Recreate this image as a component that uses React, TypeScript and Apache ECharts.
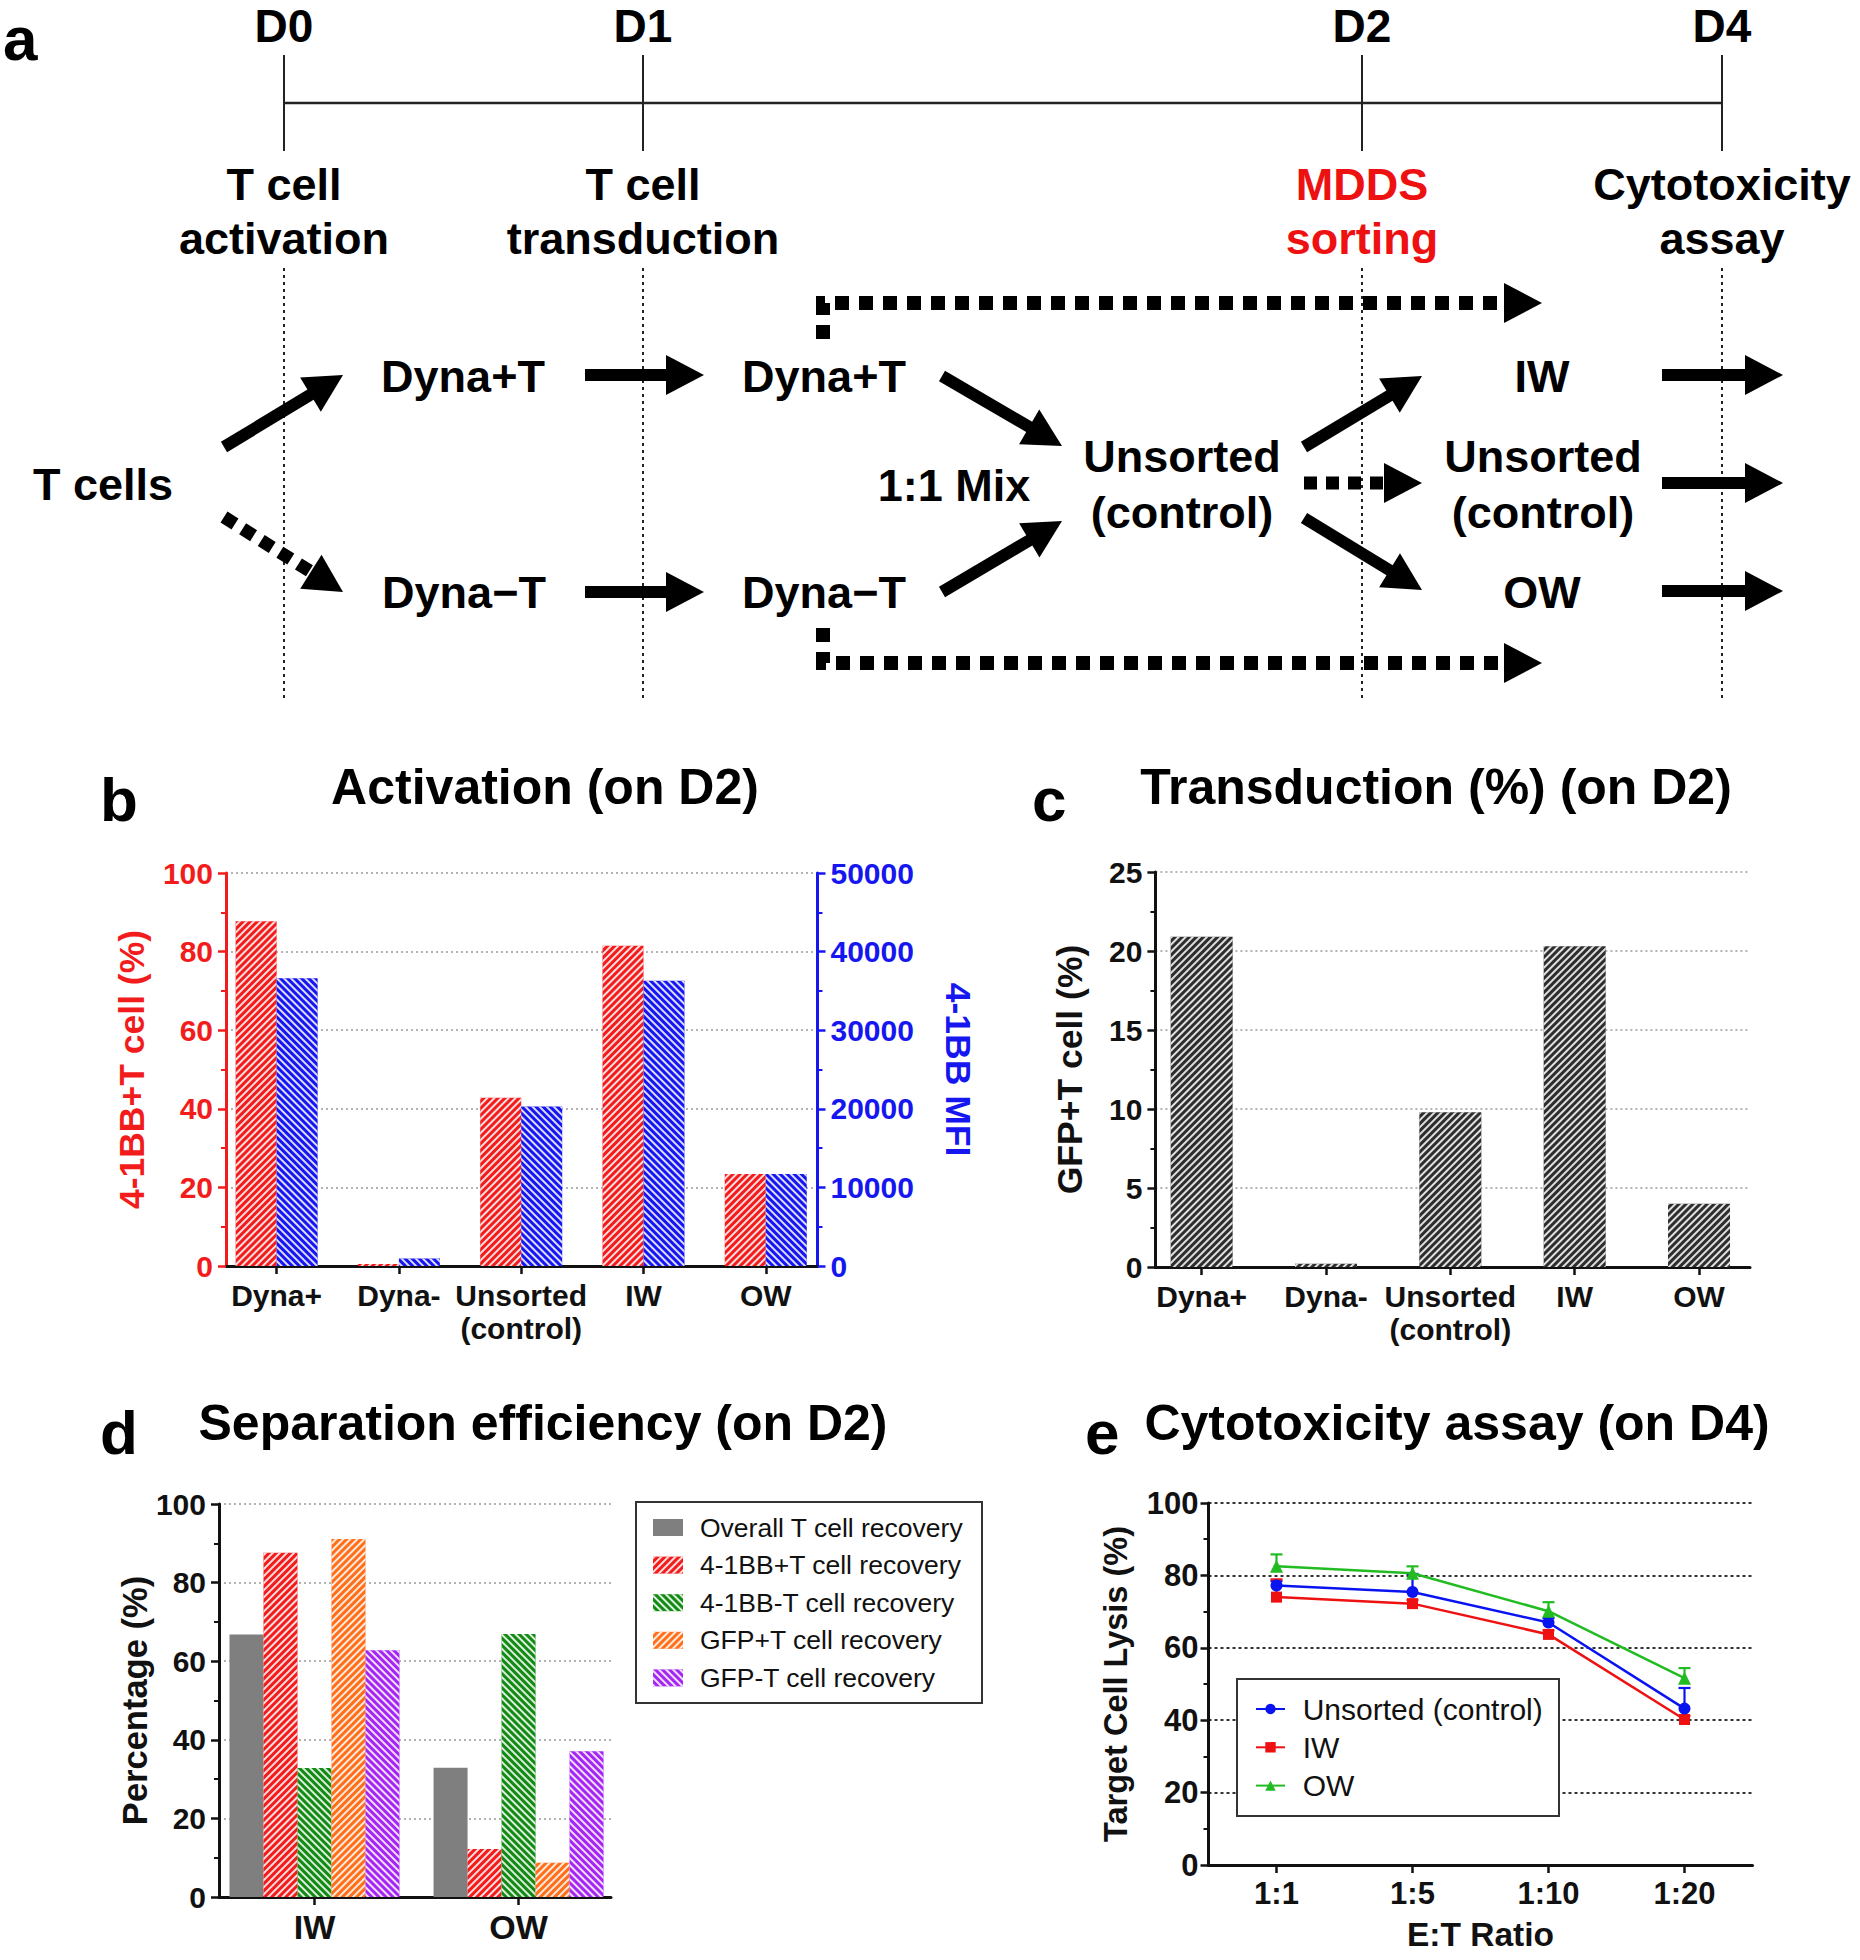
import React, { useEffect, useRef } from 'react';
import * as echarts from 'echarts';

const FONT = "'Liberation Sans', Arial, Helvetica, sans-serif";

// ---------- data ----------
const bCategories = ['Dyna+', 'Dyna-', 'Unsorted\n(control)', 'IW', 'OW'];
const bPercent = [87.7, 0.5, 42.8, 81.5, 23.4];
const bMFI = [36600, 950, 20300, 36300, 11700];

const cCategories = ['Dyna+', 'Dyna-', 'Unsorted\n(control)', 'IW', 'OW'];
const cGFP = [20.9, 0.2, 9.8, 20.3, 4.0];

const dGroups = ['IW', 'OW'];
const dNames = [
  'Overall T cell recovery',
  '4-1BB+T cell recovery',
  '4-1BB-T cell recovery',
  'GFP+T cell recovery',
  'GFP-T cell recovery',
];
const dOverall = [66.8, 32.9];
const d41BBpos = [87.6, 12.2];
const d41BBneg = [32.8, 66.9];
const dGFPpos = [91.1, 8.7];
const dGFPneg = [62.8, 37.1];

const eRatios = ['1:1', '1:5', '1:10', '1:20'];
const eNames = ['Unsorted (control)', 'IW', 'OW'];
const eUnsorted = [77.2, 75.4, 67.0, 43.2];
const eUnsortedErr = [78.4, 80.4, 68.2, 48.9];
const eIW = [74.0, 72.2, 63.7, 40.2];
const eIWErr = [78.9, 73.2, 64.8, 41.2];
const eOW = [82.5, 80.6, 70.1, 51.6];
const eOWErr = [85.8, 82.5, 72.6, 54.4];

// ---------- styles ----------
const RED = '#f21c1c';
const BLUE = '#1616f0';
const DARK = '#2e2e2e';
const GRAY = '#7f7f7f';
const GREEN = '#138a13';
const ORANGE = '#ff6f1a';
const PURPLE = '#a526f2';
const AXIS = '#111111';

// dir -1 -> "/" stripes, dir +1 -> "\" stripes
const hatch = (dir: number) => ({
  symbol: 'rect',
  symbolSize: 1,
  color: 'rgba(255,255,255,0.85)',
  dashArrayX: [1, 0],
  dashArrayY: [2, 3],
  rotation: (dir * Math.PI) / 4,
});

const txt = (text: string, x: number, y: number, size: number, color = '#000', align = 'center', weight = 'bold') => ({
  type: 'text',
  x,
  y,
  z: 20,
  style: {
    text,
    fill: color,
    fontSize: size,
    fontWeight: weight,
    fontFamily: FONT,
    align,
    verticalAlign: 'middle',
    textAlign: align,
    textVerticalAlign: 'middle',
  },
});

const arrow = (x1: number, y1: number, x2: number, y2: number, dashed = false) => {
  const dx = x2 - x1;
  const dy = y2 - y1;
  const len = Math.hypot(dx, dy);
  const ux = dx / len;
  const uy = dy / len;
  const headL = 38;
  const headW = 20;
  const bx = x2 - ux * headL;
  const by = y2 - uy * headL;
  const px = -uy;
  const py = ux;
  return [
    {
      type: 'line',
      z: 10,
      shape: { x1, y1, x2: bx + ux * 2, y2: by + uy * 2 },
      style: {
        stroke: '#000',
        lineWidth: dashed ? 13 : 12,
        lineDash: dashed ? [13, 9] : null,
        lineCap: 'butt',
      },
    },
    {
      type: 'polygon',
      z: 10,
      shape: { points: [[x2, y2], [bx + px * headW, by + py * headW], [bx - px * headW, by - py * headW]] },
      style: { fill: '#000' },
    },
  ];
};

function buildGraphics(): any[] {
  const g: any[] = [];
  // panel letters
  g.push(txt('a', 3, 38, 62, '#000', 'left'));
  g.push(txt('b', 100, 799, 62, '#000', 'left'));
  g.push(txt('c', 1032, 799, 62, '#000', 'left'));
  g.push(txt('d', 100, 1432, 62, '#000', 'left'));
  g.push(txt('e', 1085, 1432, 62, '#000', 'left'));

  // titles
  g.push(txt('Activation (on D2)', 545, 787, 50));
  g.push(txt('Transduction (%) (on D2)', 1436, 787, 50));
  g.push(txt('Separation efficiency (on D2)', 543, 1423, 50));
  g.push(txt('Cytotoxicity assay (on D4)', 1457, 1423, 50));

  // timeline
  const days = [284, 643, 1362, 1722];
  const dayNames = ['D0', 'D1', 'D2', 'D4'];
  g.push({ type: 'line', z: 5, shape: { x1: days[0], y1: 103, x2: days[3], y2: 103 }, style: { stroke: '#222', lineWidth: 2.5 } });
  days.forEach((x, i) => {
    g.push({ type: 'line', z: 5, shape: { x1: x, y1: 55, x2: x, y2: 151 }, style: { stroke: '#222', lineWidth: 2 } });
    g.push({ type: 'line', z: 5, shape: { x1: x, y1: 268, x2: x, y2: 698 }, style: { stroke: '#222', lineWidth: 2, lineDash: [3, 4] } });
    g.push(txt(dayNames[i], x, 26, 46));
  });
  g.push(txt('T cell', 284, 184, 45));
  g.push(txt('activation', 284, 238, 45));
  g.push(txt('T cell', 643, 184, 45));
  g.push(txt('transduction', 643, 238, 45));
  g.push(txt('MDDS', 1362, 184, 45, '#ee1111'));
  g.push(txt('sorting', 1362, 238, 45, '#ee1111'));
  g.push(txt('Cytotoxicity', 1722, 184, 45));
  g.push(txt('assay', 1722, 238, 45));

  // flow labels
  g.push(txt('T cells', 103, 484, 45));
  g.push(txt('Dyna+T', 463, 376, 45));
  g.push(txt('Dyna\u2212T', 464, 592, 45));
  g.push(txt('Dyna+T', 824, 376, 45));
  g.push(txt('Dyna\u2212T', 824, 592, 45));
  g.push(txt('1:1 Mix', 954, 485, 45));
  g.push(txt('Unsorted', 1182, 456, 45));
  g.push(txt('(control)', 1182, 512, 45));
  g.push(txt('IW', 1542, 376, 45));
  g.push(txt('Unsorted', 1543, 456, 45));
  g.push(txt('(control)', 1543, 512, 45));
  g.push(txt('OW', 1542, 592, 45));

  // arrows
  g.push(...arrow(224, 447, 343, 375));
  g.push(...arrow(224, 517, 343, 592, true));
  g.push(...arrow(585, 375, 704, 375));
  g.push(...arrow(585, 592, 704, 592));
  g.push(...arrow(942, 376, 1062, 446));
  g.push(...arrow(942, 592, 1062, 521));
  g.push(...arrow(1304, 447, 1422, 376));
  g.push(...arrow(1304, 483, 1422, 483, true));
  g.push(...arrow(1304, 518, 1422, 590));
  g.push(...arrow(1662, 375, 1783, 375));
  g.push(...arrow(1662, 483, 1783, 483));
  g.push(...arrow(1662, 591, 1783, 591));

  // dotted L-shaped bypass arrows
  g.push({ type: 'polyline', z: 10, shape: { points: [[823, 339], [823, 303], [1505, 303]] }, style: { stroke: '#000', lineWidth: 14, lineDash: [14, 10], lineJoin: 'miter', fill: null } });
  g.push({ type: 'polygon', z: 10, shape: { points: [[1542, 303], [1504, 283], [1504, 323]] }, style: { fill: '#000' } });
  g.push({ type: 'polyline', z: 10, shape: { points: [[823, 628], [823, 663], [1505, 663]] }, style: { stroke: '#000', lineWidth: 14, lineDash: [14, 10], lineJoin: 'miter', fill: null } });
  g.push({ type: 'polygon', z: 10, shape: { points: [[1542, 663], [1504, 643], [1504, 683]] }, style: { fill: '#000' } });

  // legend boxes
  g.push({ type: 'rect', z: 1, shape: { x: 636, y: 1502, width: 346, height: 201 }, style: { fill: '#fff', stroke: '#333', lineWidth: 2 } });
  g.push({ type: 'rect', z: 3, shape: { x: 1237, y: 1679, width: 322, height: 137 }, style: { fill: '#fff', stroke: '#333', lineWidth: 2 } });
  return g;
}

const catLabel = (cats: string[], size: number) => ({
  customValues: cats.map((_, i) => i),
  formatter: (v: number) => cats[Math.round(v)] ?? '',
  fontSize: size,
  fontWeight: 'bold',
  color: AXIS,
  fontFamily: FONT,
  margin: 13,
  lineHeight: 33,
});

const valueX = (gridIndex: number, cats: string[], min: number, max: number, size: number) => ({
  gridIndex,
  type: 'value',
  min,
  max,
  axisLine: { show: true, onZero: false, lineStyle: { color: AXIS, width: 3 } },
  axisTick: { show: true, customValues: cats.map((_, i) => i), length: 8, lineStyle: { color: AXIS, width: 2.5 } },
  axisLabel: catLabel(cats, size),
  splitLine: { show: false },
  minorTick: { show: false },
  minorSplitLine: { show: false },
});

const gridDotted = { show: true, lineStyle: { color: '#9a9a9a', width: 1.5, type: [2, 3] } };

const valueY = (gridIndex: number, max: number, interval: number, color: string, name: string, nameGap: number, nameSize: number, extra: any = {}) => ({
  gridIndex,
  type: 'value',
  min: 0,
  max,
  interval,
  name,
  nameLocation: 'middle',
  nameGap,
  nameRotate: 90,
  nameTextStyle: { fontSize: nameSize, fontWeight: 'bold', color, fontFamily: FONT },
  axisLine: { show: true, onZero: false, lineStyle: { color, width: 3 } },
  axisTick: { show: true, length: 8, lineStyle: { color, width: 2.5 } },
  minorTick: { show: true, splitNumber: 2, length: 5, lineStyle: { color, width: 2 } },
  axisLabel: { fontSize: 30, fontWeight: 'bold', color, fontFamily: FONT, margin: 13, formatter: (v: number) => String(v) },
  splitLine: gridDotted,
  ...extra,
});

function buildOption(): any {
  const errSeries = (name: string, vals: number[], tops: number[], color: string) => ({
    type: 'custom',
    name,
    xAxisIndex: 3,
    yAxisIndex: 4,
    z: 2,
    silent: true,
    encode: { x: 0, y: [1, 2] },
    data: vals.map((v, i) => [i, v, tops[i]]),
    renderItem: (_params: any, api: any) => {
      const p0 = api.coord([api.value(0), api.value(1)]);
      const p1 = api.coord([api.value(0), api.value(2)]);
      return {
        type: 'group',
        children: [
          { type: 'line', shape: { x1: p0[0], y1: p0[1], x2: p1[0], y2: p1[1] }, style: { stroke: color, lineWidth: 2.2 } },
          { type: 'line', shape: { x1: p1[0] - 6, y1: p1[1], x2: p1[0] + 6, y2: p1[1] }, style: { stroke: color, lineWidth: 2.2 } },
        ],
      };
    },
  });

  const dBar = (name: string, vals: number[], color: string, decal: any) => ({
    type: 'bar',
    name,
    xAxisIndex: 2,
    yAxisIndex: 3,
    barWidth: 34,
    barGap: '0%',
    data: vals.map((v, i) => [i, v]),
    itemStyle: decal ? { color, decal } : { color },
  });

  return {
    animation: false,
    backgroundColor: '#ffffff',
    textStyle: { fontFamily: FONT },
    grid: [
      { left: 226, top: 873, width: 591.5, height: 393, outerBoundsMode: 'none' },
      { left: 1155.4, top: 872, width: 594.6, height: 395, outerBoundsMode: 'none' },
      { left: 219, top: 1504, width: 392, height: 393, outerBoundsMode: 'none' },
      { left: 1208.5, top: 1503, width: 544, height: 362, outerBoundsMode: 'none' },
    ],
    xAxis: [
      valueX(0, bCategories, -0.414, 4.423, 30),
      valueX(1, cCategories, -0.372, 4.41, 30),
      valueX(2, dGroups, -0.468, 1.453, 34),
      {
        gridIndex: 3,
        type: 'category',
        data: eRatios,
        boundaryGap: true,
        name: 'E:T Ratio',
        nameLocation: 'middle',
        nameGap: 52,
        nameTextStyle: { fontSize: 33.5, fontWeight: 'bold', color: AXIS, fontFamily: FONT },
        axisLine: { show: true, onZero: false, lineStyle: { color: AXIS, width: 3 } },
        axisTick: { show: true, alignWithLabel: true, length: 8, lineStyle: { color: AXIS, width: 2.5 } },
        axisLabel: { fontSize: 31, fontWeight: 'bold', color: AXIS, fontFamily: FONT, margin: 13 },
        splitLine: { show: false },
      },
    ],
    yAxis: [
      valueY(0, 100, 20, RED, '4-1BB+T cell (%)', 76, 35.5),
      valueY(0, 50000, 10000, BLUE, '4-1BB MFI', 122, 35.5, {
        position: 'right',
        nameRotate: -90,
        splitLine: { show: false },
      }),
      valueY(1, 25, 5, AXIS, 'GFP+T cell (%)', 67, 35.5),
      valueY(2, 100, 20, AXIS, 'Percentage (%)', 67, 34.5),
      valueY(3, 100, 20, AXIS, 'Target Cell Lysis (%)', 76, 32.5, {
        splitLine: { show: true, lineStyle: { color: '#333', width: 2, type: [3, 3] } },
        axisLabel: { fontSize: 31, fontWeight: 'bold', color: AXIS, fontFamily: FONT, margin: 10 },
      }),
    ],
    legend: [
      {
        data: dNames,
        orient: 'vertical',
        left: 653,
        top: 1514,
        padding: 0,
        itemWidth: 30,
        itemHeight: 17,
        itemGap: 10.6,
        icon: 'rect',
        selectedMode: false,
        textStyle: { fontSize: 26.5, lineHeight: 27, color: AXIS, fontFamily: FONT, padding: [0, 0, 0, 12] },
      },
      {
        data: eNames,
        orient: 'vertical',
        left: 1255,
        top: 1694,
        padding: 0,
        itemWidth: 29,
        itemHeight: 13,
        itemGap: 8.3,
        selectedMode: false,
        z: 5,
        textStyle: { fontSize: 30, lineHeight: 30, color: AXIS, fontFamily: FONT, padding: [0, 0, 0, 12.7] },
      },
    ],
    series: [
      {
        type: 'bar',
        name: '4-1BB+T cell (%)',
        xAxisIndex: 0,
        yAxisIndex: 0,
        barWidth: 41,
        barGap: '0%',
        data: bPercent.map((v, i) => [i, v]),
        itemStyle: { color: RED, decal: hatch(-1) },
      },
      {
        type: 'bar',
        name: '4-1BB MFI',
        xAxisIndex: 0,
        yAxisIndex: 1,
        barWidth: 41,
        barGap: '0%',
        data: bMFI.map((v, i) => [i, v]),
        itemStyle: { color: BLUE, decal: hatch(1) },
      },
      {
        type: 'bar',
        name: 'GFP+T cell (%)',
        xAxisIndex: 1,
        yAxisIndex: 2,
        barWidth: 62,
        data: cGFP.map((v, i) => [i, v]),
        itemStyle: { color: DARK, decal: hatch(-1) },
      },
      dBar(dNames[0], dOverall, GRAY, null),
      dBar(dNames[1], d41BBpos, RED, hatch(-1)),
      dBar(dNames[2], d41BBneg, GREEN, hatch(1)),
      dBar(dNames[3], dGFPpos, ORANGE, hatch(-1)),
      dBar(dNames[4], dGFPneg, PURPLE, hatch(1)),
      errSeries('Unsorted error', eUnsorted, eUnsortedErr, '#0a14f0'),
      errSeries('IW error', eIW, eIWErr, '#ee1111'),
      errSeries('OW error', eOW, eOWErr, '#22bb22'),
      {
        type: 'line',
        name: eNames[0],
        xAxisIndex: 3,
        yAxisIndex: 4,
        z: 4,
        data: eUnsorted,
        symbol: 'circle',
        symbolSize: 12,
        color: '#0a14f0',
        lineStyle: { width: 2.5 },
      },
      {
        type: 'line',
        name: eNames[1],
        xAxisIndex: 3,
        yAxisIndex: 4,
        z: 3,
        data: eIW,
        symbol: 'rect',
        symbolSize: 11,
        color: '#ee1111',
        lineStyle: { width: 2.5 },
      },
      {
        type: 'line',
        name: eNames[2],
        xAxisIndex: 3,
        yAxisIndex: 4,
        z: 4,
        data: eOW,
        symbol: 'triangle',
        symbolSize: 13,
        color: '#22bb22',
        lineStyle: { width: 2.5 },
      },
    ],
    graphic: { elements: buildGraphics() },
  };
}

export default function App() {
  const ref = useRef<HTMLDivElement>(null);
  useEffect(() => {
    if (!ref.current) return;
    const chart = echarts.init(ref.current, null, { renderer: 'svg', width: 1860, height: 1960 });
    chart.setOption(buildOption());
    return () => chart.dispose();
  }, []);
  return (
    <div
      ref={ref}
      style={{ position: 'absolute', left: 0, top: 0, width: 1860, height: 1960, background: '#fff' }}
    />
  );
}
